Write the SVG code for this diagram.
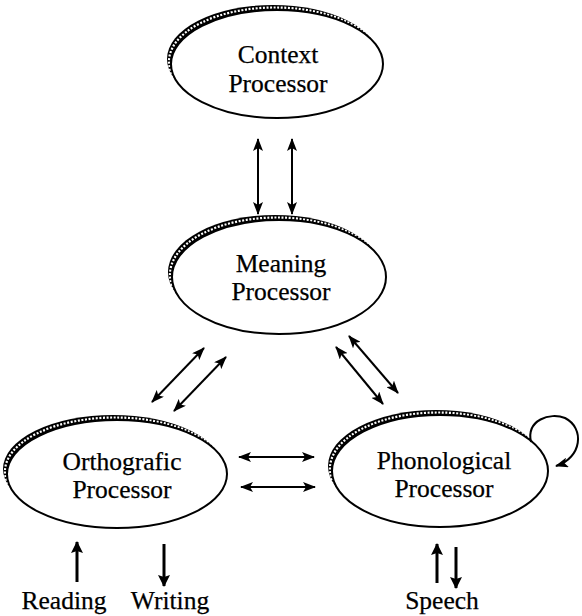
<svg xmlns="http://www.w3.org/2000/svg" width="582" height="616" viewBox="0 0 582 616">
  <style>
    .label { font-family: "Liberation Serif", "Times New Roman", serif; font-size: 25.5px; fill: #000; stroke: #000; stroke-width: 0.25; text-anchor: middle; }
    .band { fill: #000; }
    .face { fill: #fff; }
    .dots { fill: none; stroke: #fff; stroke-width: 2.2; stroke-dasharray: 2 1.6; }
    .rim { fill: none; stroke: #000; stroke-width: 2; }
    .link { fill: none; stroke: #000; stroke-width: 2; marker-start: url(#head); marker-end: url(#head); }
    .io { fill: none; stroke: #000; stroke-width: 3; marker-end: url(#headBig); }
  </style>
  <defs>
    <marker id="head" viewBox="0 0 13 10" refX="12" refY="5" markerWidth="13" markerHeight="10" markerUnits="userSpaceOnUse" orient="auto-start-reverse">
      <path d="M0,0 L13,5 L0,10 L3,5 z" fill="#000"/>
    </marker>
    <marker id="headBig" viewBox="0 0 12 12" refX="11" refY="6" markerWidth="12" markerHeight="12" markerUnits="userSpaceOnUse" orient="auto">
      <path d="M0,0 L12,6 L0,12 L2,6 z" fill="#000"/>
    </marker>
  </defs>

  <!-- Processor nodes: shifted black ellipse + white face gives the beaded rim on the upper-left -->
  <g id="context">
    <ellipse class="band" cx="273" cy="59" rx="106" ry="54"/>
    <ellipse class="face" cx="277" cy="64" rx="106" ry="54"/>
    <ellipse class="dots" cx="275" cy="61.5" rx="106" ry="54"/>
    <ellipse class="rim" cx="277" cy="64" rx="106" ry="54"/>
    <text class="label" x="278" y="63">Context</text>
    <text class="label" x="278" y="92">Processor</text>
  </g>

  <g id="meaning">
    <ellipse class="band" cx="275" cy="272" rx="107" ry="57"/>
    <ellipse class="face" cx="279" cy="277" rx="107" ry="57"/>
    <ellipse class="dots" cx="277" cy="274.5" rx="107" ry="57"/>
    <ellipse class="rim" cx="279" cy="277" rx="107" ry="57"/>
    <text class="label" x="281" y="272">Meaning</text>
    <text class="label" x="281" y="300">Processor</text>
  </g>

  <g id="orthografic">
    <ellipse class="band" cx="113" cy="469" rx="110" ry="54"/>
    <ellipse class="face" cx="117" cy="474" rx="110" ry="54"/>
    <ellipse class="dots" cx="115" cy="471.5" rx="110" ry="54"/>
    <ellipse class="rim" cx="117" cy="474" rx="110" ry="54"/>
    <text class="label" x="122" y="470">Orthografic</text>
    <text class="label" x="122" y="498">Processor</text>
  </g>

  <g id="phonological">
    <ellipse class="band" cx="436" cy="466" rx="108" ry="56"/>
    <ellipse class="face" cx="440" cy="471" rx="108" ry="56"/>
    <ellipse class="dots" cx="438" cy="468.5" rx="108" ry="56"/>
    <ellipse class="rim" cx="440" cy="471" rx="108" ry="56"/>
    <text class="label" x="444" y="469">Phonological</text>
    <text class="label" x="444" y="497">Processor</text>
  </g>

  <g id="reading">
    <text class="label" x="64" y="609">Reading</text>
  </g>
  <g id="writing">
    <text class="label" x="170" y="609">Writing</text>
  </g>
  <g id="speech">
    <text class="label" x="442" y="609">Speech</text>
  </g>

  <!-- Connectors -->
  <g id="connectors">
    <line class="link" x1="258" y1="139" x2="258" y2="214"/>
    <line class="link" x1="292" y1="139" x2="292" y2="214"/>

    <line class="link" x1="204" y1="348" x2="152" y2="402"/>
    <line class="link" x1="226" y1="357" x2="174" y2="411"/>

    <line class="link" x1="349" y1="336" x2="398" y2="393"/>
    <line class="link" x1="336" y1="347" x2="383" y2="404"/>

    <line class="link" x1="239" y1="457" x2="314" y2="457"/>
    <line class="link" x1="241" y1="487" x2="315" y2="487"/>

    <path class="link" style="marker-start:none" d="M531,442 C526,420 550,412 565,418 C585,428 582,458 556,466"/>

    <line class="io" x1="77" y1="582" x2="77" y2="542"/>
    <line class="io" x1="164" y1="544" x2="164" y2="586"/>
    <line class="io" x1="437" y1="583" x2="437" y2="544"/>
    <line class="io" x1="456" y1="547" x2="456" y2="588"/>
  </g>
</svg>
